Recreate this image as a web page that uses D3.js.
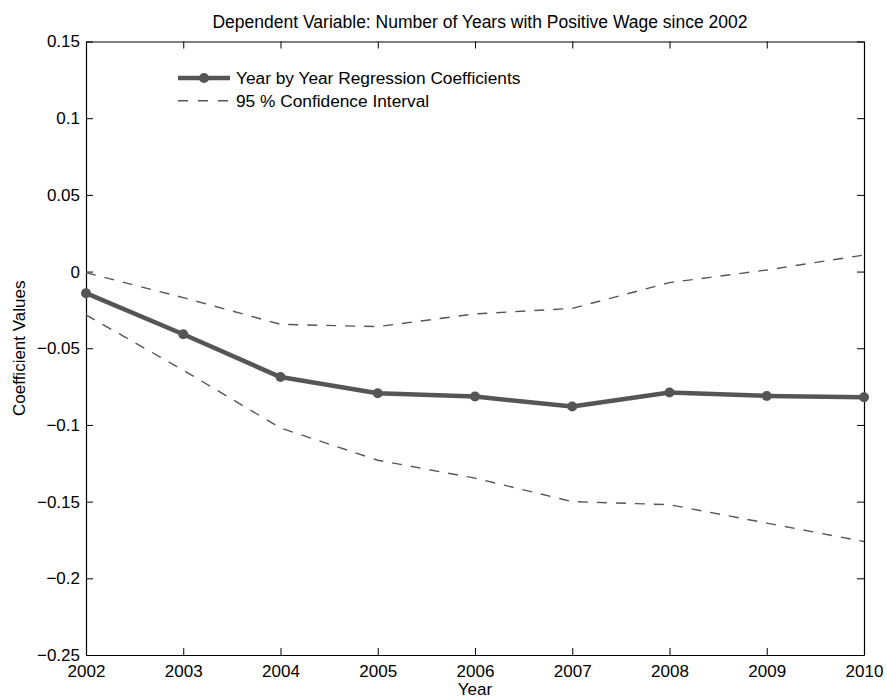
<!DOCTYPE html>
<html>
<head>
<meta charset="utf-8">
<script src="https://cdn.jsdelivr.net/npm/d3@7"></script>
<style>
  html, body { margin: 0; padding: 0; background: #fff; }
  text { font-family: "Liberation Sans", Arial, Helvetica, sans-serif; fill: #000; }
</style>
</head>
<body>
<svg id="chart" width="887" height="700"></svg>
<script>
// Year-by-year regression coefficients with 95% confidence bounds
const years = [2002, 2003, 2004, 2005, 2006, 2007, 2008, 2009, 2010];
const coefficients = [-0.0141, -0.0409, -0.0688, -0.0793, -0.0815, -0.0880, -0.0789, -0.0811, -0.0820];
const upperCI = [-0.0007, -0.0170, -0.0344, -0.0359, -0.0276, -0.0240, -0.0072, 0.0010, 0.0108];
const lowerCI = [-0.0283, -0.0643, -0.1020, -0.1230, -0.1347, -0.1500, -0.1520, -0.1640, -0.1760];
const yTicks = [0.15, 0.1, 0.05, 0, -0.05, -0.1, -0.15, -0.2, -0.25];
const yTickLabels = ["0.15", "0.1", "0.05", "0", "\u22120.05", "\u22120.1", "\u22120.15", "\u22120.2", "\u22120.25"];

const titleText = "Dependent Variable: Number of Years with Positive Wage since 2002";
const xLabel = "Year";
const yLabel = "Coefficient Values";
const legendLabels = ["Year by Year Regression Coefficients", "95 % Confidence Interval"];

const margin = { left: 86, right: 23, top: 41.5, bottom: 45 };
const W = 887, H = 700;
const svg = d3.select("#chart");
const plotW = W - margin.left - margin.right;
const plotH = H - margin.top - margin.bottom;

const x = d3.scaleLinear().domain([2002, 2010]).range([margin.left, margin.left + plotW]);
const y = d3.scaleLinear().domain([-0.25, 0.15]).range([margin.top + plotH, margin.top]);

const lineColor = "#555555";
const fontSize = 17;

// Axes: ticks point inward, mirrored on top and right
const tickLen = 7;
const xBottom = d3.axisBottom(x).tickValues(years).tickFormat(d3.format("d")).tickSizeInner(-tickLen).tickSizeOuter(0);
const xTop = d3.axisTop(x).tickValues(years).tickFormat("").tickSizeInner(-tickLen).tickSizeOuter(0);
const yLeft = d3.axisLeft(y).tickValues(yTicks).tickFormat((d, i) => yTickLabels[i]).tickSizeInner(-tickLen).tickSizeOuter(0).tickPadding(6);
const yRight = d3.axisRight(y).tickValues(yTicks).tickFormat("").tickSizeInner(-tickLen).tickSizeOuter(0);

function styleAxis(g) {
  g.select(".domain").attr("stroke", "#000").attr("stroke-width", 1.2);
  g.selectAll(".tick line").attr("stroke", "#000").attr("stroke-width", 1);
  g.selectAll(".tick text").attr("font-size", fontSize).attr("font-family", "Liberation Sans, Arial, sans-serif").attr("fill", "#000");
}

svg.append("g").attr("transform", `translate(0,${margin.top + plotH})`).call(xBottom).call(styleAxis)
  .selectAll(".tick text").attr("y", 22).attr("dy", 0);
svg.append("g").attr("transform", `translate(0,${margin.top})`).call(xTop).call(styleAxis);
svg.append("g").attr("transform", `translate(${margin.left},0)`).call(yLeft).call(styleAxis);
svg.append("g").attr("transform", `translate(${margin.left + plotW},0)`).call(yRight).call(styleAxis);

// Data lines
const lineGen = d3.line().x((d, i) => x(years[i])).y(d => y(d));

[upperCI, lowerCI].forEach(series => {
  svg.append("path")
    .datum(series)
    .attr("d", lineGen)
    .attr("fill", "none")
    .attr("stroke", lineColor)
    .attr("stroke-width", 1.4)
    .attr("stroke-dasharray", "10,9");
});

svg.append("path")
  .datum(coefficients)
  .attr("d", lineGen)
  .attr("fill", "none")
  .attr("stroke", lineColor)
  .attr("stroke-width", 4.5)
  .attr("stroke-linejoin", "round");

svg.append("g").selectAll("circle")
  .data(coefficients)
  .join("circle")
  .attr("cx", (d, i) => x(years[i]))
  .attr("cy", d => y(d))
  .attr("r", 5)
  .attr("fill", lineColor);

// Title and axis labels
svg.append("text")
  .attr("x", 480).attr("y", 28)
  .attr("text-anchor", "middle").attr("font-size", 17.5)
  .text(titleText);

svg.append("text")
  .attr("x", margin.left + plotW / 2).attr("y", 695)
  .attr("text-anchor", "middle").attr("font-size", fontSize)
  .text(xLabel);

svg.append("text")
  .attr("transform", `translate(25,${margin.top + plotH / 2}) rotate(-90)`)
  .attr("text-anchor", "middle").attr("font-size", fontSize)
  .text(yLabel);

// Legend
const legend = svg.append("g").attr("transform", "translate(178,78)");
legend.append("line").attr("x1", 0).attr("x2", 52).attr("y1", 0).attr("y2", 0)
  .attr("stroke", lineColor).attr("stroke-width", 4.5);
legend.append("circle").attr("cx", 26).attr("cy", 0).attr("r", 5).attr("fill", lineColor);
legend.append("text").attr("x", 58).attr("y", 0).attr("dy", "0.35em").attr("font-size", 17.3).text(legendLabels[0]);
legend.append("line").attr("x1", 0).attr("x2", 52).attr("y1", 22.7).attr("y2", 22.7)
  .attr("stroke", lineColor).attr("stroke-width", 1.4).attr("stroke-dasharray", "10,10");
legend.append("text").attr("x", 58).attr("y", 22.7).attr("dy", "0.35em").attr("font-size", 17.3).text(legendLabels[1]);
</script>
</body>
</html>
